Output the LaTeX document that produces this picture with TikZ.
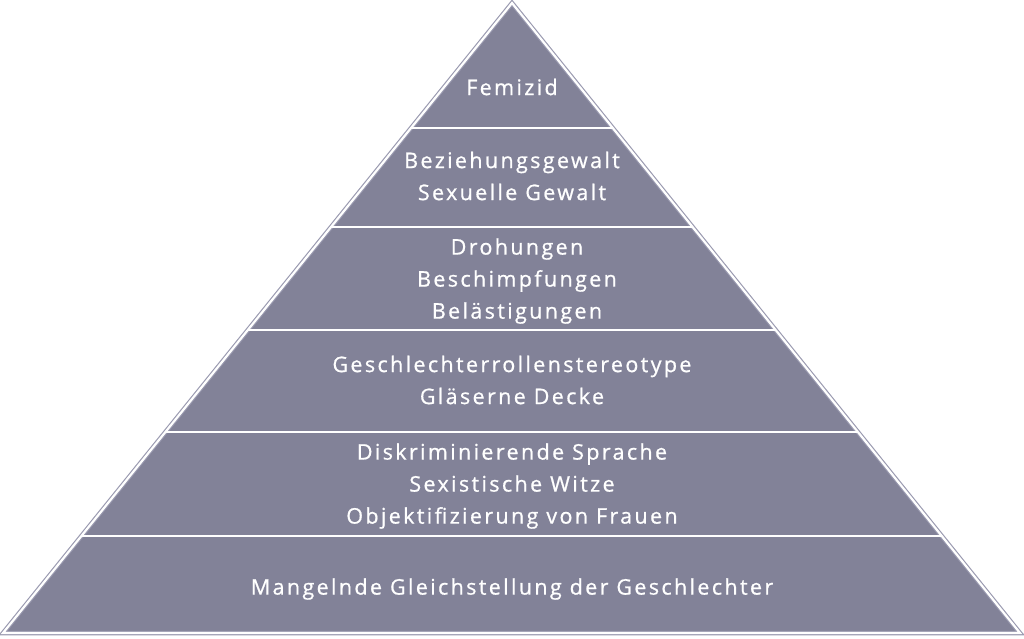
\documentclass[tikz,border=0pt]{standalone}
\usepackage{fontspec}
\setmainfont{Open Sans}[LetterSpace=11,FakeBold=0.8]
\usetikzlibrary{calc}
\definecolor{pyr}{HTML}{828298}
\definecolor{pyredge}{HTML}{9A9AB0}
\tikzset{
  lbl/.style={text=white, align=center, font=\fontsize{21.5}{32}\selectfont, inner sep=0pt},
  divider/.style={draw=white, line width=2.2pt},
}
\begin{document}
\begin{tikzpicture}[x=1pt,y=-1pt]
\useasboundingbox (0,0) rectangle (1024,638);
\coordinate (A) at (512,3);
\coordinate (L) at (3,633);
\coordinate (R) at (1020,633);
\fill[pyr] (A) -- (L) -- (R) -- cycle;
\draw[pyredge, line width=4.5pt, line join=miter] (A) -- (L) -- (R) -- cycle;
\draw[white, line width=2.2pt, line join=miter] (A) -- (L) -- (R) -- cycle;
\foreach \y in {128,227,330,432,536}{
  \pgfmathsetmacro{\t}{(\y-3)/630}
  \draw[divider] ($(A)!\t!(L)$) -- ($(A)!\t!(R)$);
}
\node[lbl] (n1) at (512,87) {Femizid};
\node[lbl] (n2) at (512,176) {Beziehungsgewalt\\Sexuelle Gewalt};
\node[lbl] (n3) at (517,281) {Drohungen\\Beschimpfungen\\Belästigungen};
\node[lbl] (n4) at (512,380) {Geschlechterrollenstereotype\\Gläserne Decke};
\node[lbl] (n5) at (512,486) {Diskriminierende Sprache\\Sexistische Witze\\Objektifizierung von Frauen};
\node[lbl] (n6) at (512,589) {Mangelnde Gleichstellung der Geschlechter};
\end{tikzpicture}
\end{document}
